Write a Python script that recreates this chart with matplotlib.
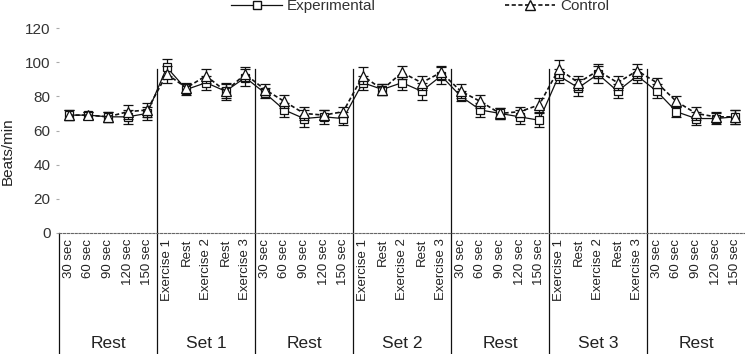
import matplotlib.pyplot as plt
import matplotlib.transforms as mtransforms
from matplotlib.lines import Line2D
import numpy as np

plt.rcParams['font.family'] = ['Liberation Sans', 'DejaVu Sans']

groups = ['Rest', 'Set 1', 'Rest', 'Set 2', 'Rest', 'Set 3', 'Rest']
rest_labels = ['30 sec', '60 sec', '90 sec', '120 sec', '150 sec']
set_labels = ['Exercise 1', 'Rest', 'Exercise 2', 'Rest', 'Exercise 3']
tick_labels = []
for g in groups:
    tick_labels += rest_labels if g == 'Rest' else set_labels

experimental = [69, 69, 68, 68, 70,
                97, 84, 88, 83, 91,
                82, 72, 67, 68, 67,
                88, 84, 88, 83, 92,
                80, 72, 70, 68, 66,
                92, 85, 93, 83, 92,
                83, 71, 67, 67, 68]
experimental_err = [3, 2, 3, 4, 4,
                    5, 3, 4, 5, 5,
                    3, 4, 5, 4, 4,
                    4, 3, 4, 5, 5,
                    3, 4, 3, 4, 4,
                    4, 5, 5, 4, 4,
                    4, 3, 4, 3, 4]
control = [69, 69, 68, 71, 72,
           93, 85, 92, 83, 93,
           84, 77, 70, 69, 71,
           92, 84, 94, 88, 94,
           83, 77, 70, 71, 75,
           96, 88, 95, 88, 95,
           88, 77, 70, 68, 68]
control_err = [3, 2, 3, 4, 4,
               5, 3, 4, 4, 4,
               3, 4, 4, 3, 3,
               5, 3, 4, 4, 4,
               4, 4, 3, 3, 4,
               5, 4, 4, 4, 4,
               3, 3, 4, 3, 4]

x = np.arange(len(tick_labels))

fig = plt.figure(figsize=(7.45, 3.54), dpi=100)
ax = fig.add_axes([59 / 745, 121 / 354, 686 / 745, 205 / 354])

ax.errorbar(x, experimental, yerr=experimental_err, color='#111', lw=0.9,
            marker='s', ms=5.5, mfc='white', mec='#111', mew=0.9,
            capsize=3.5, elinewidth=0.9, capthick=0.9, zorder=3)
ax.errorbar(x, control, yerr=control_err, color='#111', lw=1.2, ls='--',
            dashes=(2.5, 1.5), marker='^', ms=6.5, mfc='white', mec='#111',
            mew=0.9, capsize=3.5, elinewidth=0.9, capthick=0.9, zorder=4)

ax.set_xlim(-0.5, len(tick_labels) - 0.5)
ax.set_ylim(0, 120)
ax.set_yticks(range(0, 121, 20))
ax.tick_params(axis='y', labelsize=11, labelcolor='#333', length=2,
               color='#aaa', pad=4)
ax.set_xticks(x)
ax.set_xticklabels(tick_labels, rotation=90, fontsize=9.5, color='#222')
ax.tick_params(axis='x', length=0, pad=4)
for s in ['top', 'right', 'left']:
    ax.spines[s].set_visible(False)
ax.spines['bottom'].set_linestyle((0, (2, 1.5)))
ax.spines['bottom'].set_color('#666')
ax.set_ylabel('Beats/min', fontsize=11, color='#222')
ax.yaxis.set_label_coords(-0.064, 0.4)

# group separators and group names
for i in range(1, len(groups)):
    ax.plot([i * 5 - 0.5] * 2, [96, -80], color='#111', lw=0.9, clip_on=False)
ax.plot([-0.5, -0.5], [0, -80], color='#111', lw=0.9, clip_on=False)
trans = mtransforms.blended_transform_factory(ax.transData, fig.transFigure)
for i, g in enumerate(groups):
    ax.text(i * 5 + 2, 1 - 343 / 354, g, transform=trans, ha='center',
            va='center', fontsize=12.5, color='#222')

handles = [Line2D([], [], color='#111', lw=0.9, marker='s', ms=5.5,
                  mfc='white', mec='#111'),
           Line2D([], [], color='#111', lw=1.2, ls='--', dashes=(2.5, 1.5),
                  marker='^', ms=6.5, mfc='white', mec='#111')]
fig.legend(handles, ['Experimental', 'Control'], loc='center',
           bbox_to_anchor=(0.564, 1 - 6 / 354), ncol=2, frameon=False,
           fontsize=11, columnspacing=8.5, handlelength=3.3, handletextpad=0.3,
           labelcolor='#333')

fig.savefig('out.png', dpi=100)
